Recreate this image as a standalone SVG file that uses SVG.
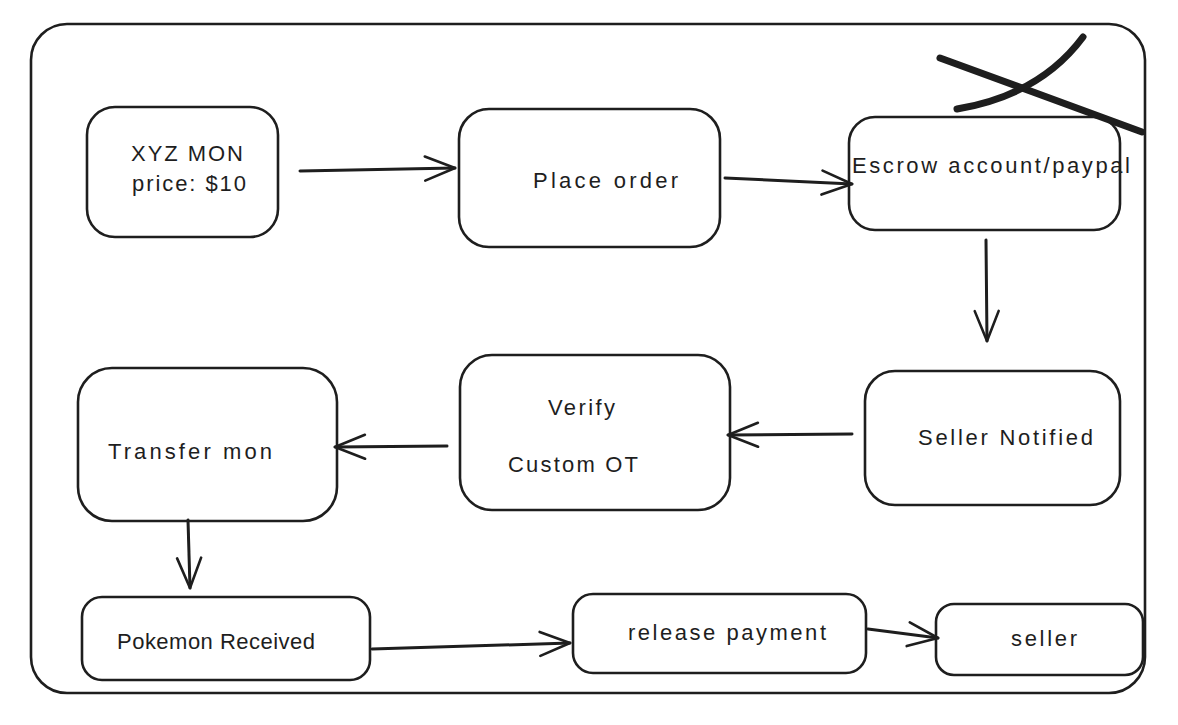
<svg xmlns="http://www.w3.org/2000/svg" width="1178" height="725" viewBox="0 0 1178 725">
<defs>
<style>
.box{fill:#ffffff;stroke:#1e1e1e;stroke-width:2.6;}
.t{font-family:"Liberation Sans",Arial,sans-serif;font-size:22px;fill:#1e1e1e;}
.c{fill:none;stroke:#1e1e1e;stroke-width:3;stroke-linecap:round;}
.x{fill:none;stroke:#1e1e1e;stroke-width:7;stroke-linecap:round;}
</style>
<marker id="ah" markerUnits="userSpaceOnUse" viewBox="0 0 34 28" refX="32" refY="14" markerWidth="34" markerHeight="28" orient="auto">
<path d="M2,2 L32,14 L2,26" fill="none" stroke="#1e1e1e" stroke-width="2.6" stroke-linecap="round" stroke-linejoin="round"/>
</marker>
</defs>
<rect x="0" y="0" width="1178" height="725" fill="#ffffff"/>
<g id="container"><rect class="box" x="31" y="24" width="1114" height="669" rx="36"/></g>
<g id="node-xyz"><rect class="box" x="87" y="107" width="191" height="130" rx="28"/>
<text class="t" x="131" y="161" textLength="112">XYZ MON</text>
<text class="t" x="132" y="191" textLength="114">price: $10</text></g>
<g id="node-place"><rect class="box" x="459" y="109" width="261" height="138" rx="30"/>
<text class="t" x="533" y="188" textLength="145">Place order</text></g>
<g id="node-escrow"><rect class="box" x="849" y="117" width="271" height="113" rx="26"/>
<text class="t" x="852" y="173" textLength="278">Escrow account/paypal</text></g>
<g id="node-seller-notified"><rect class="box" x="865" y="371" width="255" height="134" rx="30"/>
<text class="t" x="918" y="445" textLength="175">Seller Notified</text></g>
<g id="node-verify"><rect class="box" x="460" y="355" width="270" height="155" rx="32"/>
<text class="t" x="548" y="415" textLength="67">Verify</text>
<text class="t" x="508" y="472" textLength="130">Custom OT</text></g>
<g id="node-transfer"><rect class="box" x="78" y="368" width="259" height="153" rx="34"/>
<text class="t" x="108" y="459" textLength="164">Transfer mon</text></g>
<g id="node-pokemon"><rect class="box" x="82" y="597" width="288" height="83" rx="20"/>
<text class="t" x="117" y="649" textLength="198">Pokemon Received</text></g>
<g id="node-release"><rect class="box" x="573" y="594" width="293" height="79" rx="20"/>
<text class="t" x="628" y="640" textLength="198">release payment</text></g>
<g id="node-seller"><rect class="box" x="936" y="604" width="207" height="71" rx="18"/>
<text class="t" x="1011" y="646" textLength="66">seller</text></g>
<g id="cross">
<path class="x" d="M940,58 L1142,132"/>
<path class="x" d="M957,109 Q1040,95 1083,37"/>
</g>
<g id="connectors">
<path class="c" d="M300,171 L455,168" marker-end="url(#ah)"/>
<path class="c" d="M725,178 L852,184" marker-end="url(#ah)"/>
<path class="c" d="M986,240 L987,341" marker-end="url(#ah)"/>
<path class="c" d="M852,434 L728,435" marker-end="url(#ah)"/>
<path class="c" d="M447,446 L335,447" marker-end="url(#ah)"/>
<path class="c" d="M188,520 L190,588" marker-end="url(#ah)"/>
<path class="c" d="M372,649 L570,643" marker-end="url(#ah)"/>
<path class="c" d="M868,629 L938,638" marker-end="url(#ah)"/>
</g>
</svg>
